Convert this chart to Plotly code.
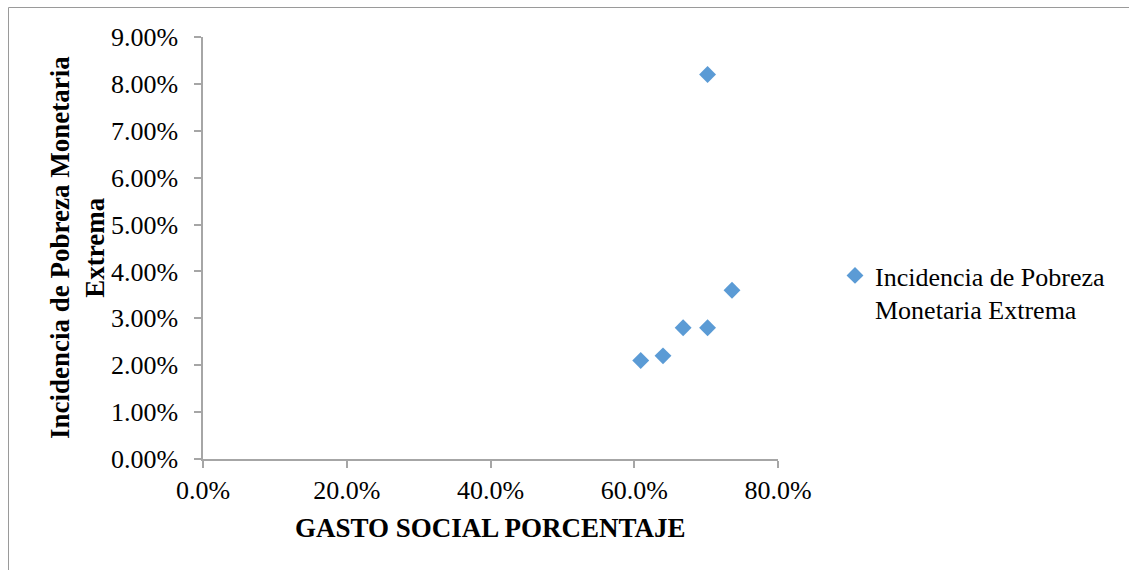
import plotly.graph_objects as go

# Social spending share vs. extreme monetary poverty incidence
gasto_social = [0.609, 0.640, 0.668, 0.702, 0.736, 0.702]
pobreza_extrema = [0.021, 0.022, 0.028, 0.028, 0.036, 0.082]

serie_nombre = "Incidencia de Pobreza<br>Monetaria Extrema"
x_titulo = "GASTO SOCIAL PORCENTAJE"
y_titulo = "Incidencia de Pobreza Monetaria<br>Extrema"

FONT = "Liberation Serif, Times New Roman, serif"
AXIS_COLOR = "#A6A6A6"
BLUE = "#5B9BD5"

W, H = 1129, 570
L, R, T, B = 203, 351, 37, 111
pw, ph = W - L - R, H - T - B

fig = go.Figure()
fig.add_trace(go.Scatter(
    x=gasto_social, y=pobreza_extrema, mode="markers",
    name=serie_nombre,
    marker=dict(symbol="diamond", size=13, color=BLUE),
    showlegend=True,
))

fig.update_layout(
    width=W, height=H,
    margin=dict(l=L, r=R, t=T, b=B),
    paper_bgcolor="white", plot_bgcolor="white",
    font=dict(family=FONT, size=26, color="black"),
    showlegend=True,
    legend=dict(
        x=(835 - L) / pw, y=1 - (252 - T) / ph,
        xanchor="left", yanchor="top",
        font=dict(family=FONT, size=26, color="black"),
        valign="top", itemwidth=30,
        bgcolor="rgba(0,0,0,0)",
    ),
    xaxis=dict(
        range=[0, 0.8], dtick=0.2, tick0=0, tickformat=".1%",
        showgrid=False, zeroline=False,
        showline=True, linecolor=AXIS_COLOR, linewidth=1.5,
        ticks="outside", ticklen=7, tickcolor=AXIS_COLOR, tickwidth=1.5,
        tickfont=dict(family=FONT, size=26, color="black"),
        fixedrange=True,
    ),
    yaxis=dict(
        range=[0, 0.09], dtick=0.01, tick0=0, tickformat=".2%",
        showgrid=False, zeroline=False,
        showline=True, linecolor=AXIS_COLOR, linewidth=1.5,
        ticks="outside", ticklen=7, tickcolor=AXIS_COLOR, tickwidth=1.5,
        tickfont=dict(family=FONT, size=26, color="black"),
        ticklabelstandoff=11,
        fixedrange=True,
    ),
)

# Axis titles
fig.add_annotation(
    text="<b>" + x_titulo + "</b>", xref="paper", yref="paper",
    x=0.5, y=-(528 - (T + ph)) / ph, xanchor="center", yanchor="middle",
    showarrow=False, font=dict(family=FONT, size=27, color="black"),
)
fig.add_annotation(
    text="<b>" + y_titulo + "</b>", xref="paper", yref="paper",
    x=(77 - L) / pw, y=1 - (248 - T) / ph, xanchor="center", yanchor="middle",
    textangle=-90, showarrow=False,
    font=dict(family=FONT, size=27, color="black"),
)

# Chart frame
fig.add_shape(
    type="rect", xref="paper", yref="paper",
    x0=(8.5 - L) / pw, x1=(W + 20 - L) / pw,
    y0=-(H + 20 - (T + ph)) / ph, y1=1 + (T - 7.5) / ph,
    line=dict(color="#9A9A9A", width=1), fillcolor="rgba(0,0,0,0)",
    layer="below",
)

fig.write_html("out.html", config={"displayModeBar": False})
